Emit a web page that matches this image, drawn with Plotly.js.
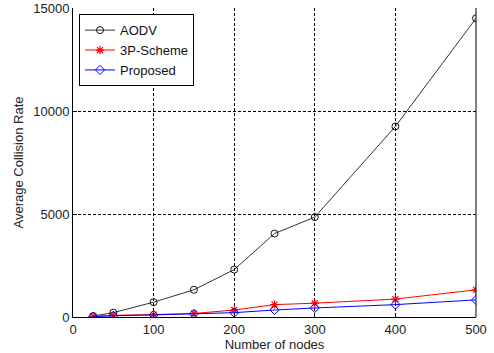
<!DOCTYPE html>
<html><head><meta charset="utf-8">
<script src="https://cdn.plot.ly/plotly-3.0.1.min.js"></script>
<style>body{margin:0;background:#fff}#chart{width:494px;height:353px}</style>
</head><body><div id="chart"></div>
<script>
const nodes = [25, 50, 100, 150, 200, 250, 300, 400, 500];
const aodv = [50, 210, 720, 1320, 2300, 4050, 4850, 9250, 14500];
const scheme3p = [30, 80, 120, 170, 340, 600, 670, 870, 1320];
const proposed = [20, 60, 100, 150, 210, 340, 440, 600, 830];
const seriesNames = ["AODV", "3P-Scheme", "Proposed"];
const xTicks = [0, 100, 200, 300, 400, 500];
const yTicks = [0, 5000, 10000, 15000];

const font = {family: "Liberation Sans, Arial, sans-serif", size: 13, color: "#222"};
const traces = [
  {x: nodes, y: aodv, name: seriesNames[0], mode: "lines+markers",
   line: {color: "#333", width: 1}, marker: {symbol: "circle-open", size: 7, color: "#111", line: {width: 1}}},
  {x: nodes, y: scheme3p, name: seriesNames[1], mode: "lines+markers",
   line: {color: "#ff0000", width: 1}, marker: {symbol: "asterisk-open", size: 7, color: "#ff0000", line: {width: 1.2, color: "#ff0000"}}},
  {x: nodes, y: proposed, name: seriesNames[2], mode: "lines+markers",
   line: {color: "#0000ff", width: 1}, marker: {symbol: "diamond-open", size: 7, color: "#0000ff", line: {width: 1}}}
];
const layout = {
  width: 494, height: 353,
  margin: {l: 73, r: 18, t: 8, b: 36},
  paper_bgcolor: "#fff", plot_bgcolor: "#fff",
  font: font,
  showlegend: true,
  legend: {x: 0.015, y: 0.98, xanchor: "left", yanchor: "top", bgcolor: "#fff",
    bordercolor: "#000", borderwidth: 1, font: {family: font.family, size: 13, color: "#111"},
    tracegroupgap: 0, itemwidth: 30},
  xaxis: {range: [0, 500], tickvals: xTicks, ticktext: xTicks.map(String),
    showline: true, linecolor: "#000", linewidth: 1, mirror: false,
    showgrid: true, gridcolor: "#000", griddash: "3px,2px", gridwidth: 1,
    ticks: "inside", ticklen: 4, tickcolor: "#000", zeroline: false,
    title: {text: "Number of nodes", font: {size: 13, color: "#222"}, standoff: 3}},
  yaxis: {range: [0, 15000], tickvals: yTicks, ticktext: yTicks.map(String),
    showline: true, linecolor: "#000", linewidth: 1, mirror: false,
    showgrid: true, gridcolor: "#000", griddash: "3px,2px", gridwidth: 1,
    ticks: "inside", ticklen: 4, tickcolor: "#000", zeroline: false,
    title: {text: "Average Collision Rate", font: {size: 13, color: "#222"}, standoff: 6}},
  shapes: [{type: "line", xref: "paper", yref: "paper", x0: 1, x1: 1, y0: 0, y1: 1,
    line: {color: "#000", width: 1}}]
};
Plotly.newPlot("chart", traces, layout, {displayModeBar: false, staticPlot: true});
</script></body></html>
